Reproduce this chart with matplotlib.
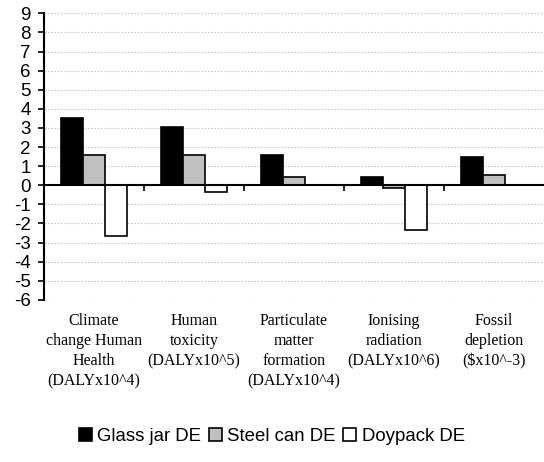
import numpy as np
import matplotlib
matplotlib.use("Agg")
import matplotlib.pyplot as plt

plt.rcParams['axes.unicode_minus'] = False

# datos
categorias = ["Climate\nchange Human\nHealth\n(DALYx10^4)",
              "Human\ntoxicity\n(DALYx10^5)",
              "Particulate\nmatter\nformation\n(DALYx10^4)",
              "Ionising\nradiation\n(DALYx10^6)",
              "Fossil\ndepletion\n($x10^-3)"]
series = ["Glass jar DE", "Steel can DE", "Doypack DE"]
glass_jar = [3.5, 3.05, 1.6, 0.45, 1.5]
steel_can = [1.6, 1.6, 0.42, -0.15, 0.54]
doypack = [-2.65, -0.33, 0.0, -2.34, 0.0]
yticks = list(range(-6, 10))

colores = ["#000000", "#c0c0c0", "#ffffff"]

fig = plt.figure(figsize=(5.44, 4.62), dpi=100)
ax = fig.add_axes([0.081, 0.351, 0.919, 0.620])

x = np.arange(len(categorias))
ancho = 0.222
for i, (nombre, vals) in enumerate(zip(series, [glass_jar, steel_can, doypack])):
    ax.bar(x + (i - 1) * ancho, vals, width=ancho, color=colores[i],
           edgecolor="black", linewidth=1.2, label=nombre, zorder=3)

ax.set_xlim(-0.5, len(categorias) - 0.5)
ax.set_ylim(-6, 9)
ax.set_yticks(yticks)
ax.set_yticklabels([str(v) for v in yticks], fontname="Liberation Sans", fontsize=13.5)
for v in yticks:
    if v != 0:
        ax.axhline(v, color="#c8c8c8", linestyle=(0, (1.5, 1.5)), linewidth=0.8, zorder=0)

ax.spines['top'].set_visible(False)
ax.spines['right'].set_visible(False)
ax.spines['left'].set_linewidth(1.5)
ax.spines['bottom'].set_position(('data', 0))
ax.spines['bottom'].set_linewidth(1.5)
ax.spines['bottom'].set_zorder(4)
ax.tick_params(axis='y', direction='out', length=4.5, width=1.2, pad=5)
ax.set_xticks(np.arange(0.5, len(categorias) - 0.5, 1.0))
ax.tick_params(axis='x', direction='out', length=4, width=1.2, labelbottom=False)

# etiquetas de categorias abajo del area de trazado
for i, cat in enumerate(categorias):
    ax.text(i, -0.045, cat, transform=ax.get_xaxis_transform(), ha="center", va="top",
            fontname="Liberation Serif", fontsize=11.5, linespacing=1.36)

ax.legend(loc="center", bbox_to_anchor=(0.5, 0.055), bbox_transform=fig.transFigure,
          ncol=3, frameon=False, prop={"family": "Liberation Sans", "size": 13.4},
          handlelength=0.7, handleheight=0.7, handletextpad=0.3, columnspacing=0.4)

fig.savefig("out.png", dpi=100)
